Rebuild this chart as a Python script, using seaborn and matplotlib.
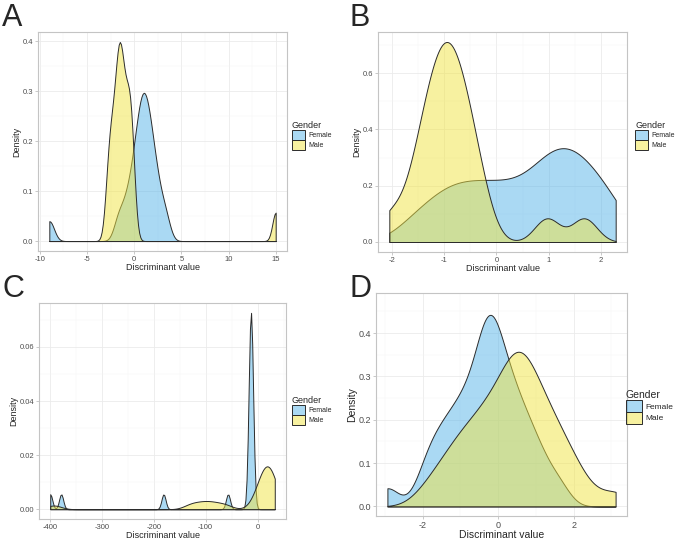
import pandas as pd
import seaborn as sns
import matplotlib.pyplot as plt
from matplotlib.patches import Patch
from matplotlib.colors import to_rgba
from matplotlib.ticker import MultipleLocator, AutoMinorLocator, FormatStrFormatter

# discriminant values per individual, one list per panel and gender
a_female = [-9.0, -1.7, -1.0, -0.5, -0.15, 0.12, 0.34, 0.53, 0.69, 0.84,
            0.99, 1.14, 1.29, 1.45, 1.63, 1.84, 2.05, 2.35, 2.74, 3.36]
a_male = [-2.85, -2.65, -2.45, -2.25, -2.05, -1.9, -1.75, -1.65, -1.55, -1.45,
          -1.35, -1.2, -1.05, -0.9, -0.7, -0.55, -0.42, -0.28, -0.12, 15.0]

b_female = [-1.6, -1.2, -0.95, -0.75, -0.5, -0.3, -0.05, 0.15, 0.4, 0.65,
            0.85, 1.0, 1.12, 1.25, 1.38, 1.52, 1.68, 1.82, 2.05, 2.28]
b_male = [-2.05, -1.66, -1.48, -1.39, -1.29, -1.21, -1.14, -1.08, -1.01,
          -0.95, -0.89, -0.82, -0.76, -0.69, -0.61, -0.51, -0.42, -0.24,
          0.97, 1.68]

c_female = [-399, -378, -181, -57, -15.5, -15, -14.5, -14, -13.5, -13.5,
            -13, -13, -12.5, -12, -12, -11.5, -11, -10.5]
c_male = [-392, -130, -112, -97, -82, -62, -5, 2, 6, 9, 12, 14, 16, 18, 20,
          22, 24, 27, 30, 32, 33]

d_female = [-2.93, -1.99, -1.78, -1.60, -1.44, -1.29, -1.16, -1.03, -0.91,
            -0.80, -0.69, -0.59, -0.49, -0.41, -0.32, -0.28, -0.24, -0.20,
            -0.16, -0.08, 0.00, 0.09, 0.17, 0.26, 0.36, 0.46, 0.58, 0.71, 0.86,
            1.02, 1.24, 1.62]
d_male = [-1.87, -1.48, -1.25, -1.06, -0.89, -0.73, -0.58, -0.44, -0.31,
          -0.19, -0.07, 0.04, 0.15, 0.26, 0.35, 0.45, 0.50, 0.55, 0.60, 0.65,
          0.75, 0.85, 0.95, 1.06, 1.17, 1.29, 1.42, 1.57, 1.73, 1.94, 2.22, 3.11]

genders = ["Female", "Male"]
colors = {"Female": "#56B4E9", "Male": "#F0E442"}

sns.set_theme(style="white")
plt.rcParams["font.family"] = ["Liberation Sans", "DejaVu Sans"]
plt.rcParams["axes.unicode_minus"] = False

W, H = 675, 540
fig = plt.figure(figsize=(W / 100, H / 100), dpi=100)


def fig_box(left, top, right, bottom):
    return [left / W, 1 - bottom / H, (right - left) / W, (bottom - top) / H]


def density_panel(ax, female, male, bws, xstep, ystep, yfmt, legend_at,
                  small=True, top_pad=0.05):
    df = pd.DataFrame({
        "value": female + male,
        "Gender": ["Female"] * len(female) + ["Male"] * len(male),
    })
    lo, hi = df["value"].min(), df["value"].max()
    for gender, h in zip(genders, bws):
        vals = df.loc[df["Gender"] == gender, "value"]
        sns.kdeplot(x=vals, ax=ax, bw_method=h / vals.std(), cut=1000,
                    clip=(lo, hi), fill=True, color=colors[gender], alpha=0.5,
                    edgecolor="#2b2b2b", linewidth=0.7)

    # ggplot-like 5% expansion on both axes
    ax.use_sticky_edges = False
    ax.margins(x=0.05, y=0.05)
    ax.autoscale_view()
    y0, y1 = ax.get_ylim()
    ymax = (y1 - y0) / 1.1
    ax.set_ylim(-0.05 * ymax, ymax * (1 + top_pad))

    tick_fs, lab_fs, leg_fs = (5.5, 6.5, 5.0) if small else (6.5, 7.5, 6.0)
    ax.xaxis.set_major_locator(MultipleLocator(xstep))
    ax.yaxis.set_major_locator(MultipleLocator(ystep))
    ax.xaxis.set_minor_locator(AutoMinorLocator(2))
    ax.yaxis.set_minor_locator(AutoMinorLocator(2))
    ax.yaxis.set_major_formatter(FormatStrFormatter(yfmt))
    ax.grid(which="major", color="#ebebeb", lw=0.6)
    ax.grid(which="minor", color="#f5f5f5", lw=0.35)
    ax.set_axisbelow(True)
    ax.tick_params(which="major", bottom=True, left=True, length=2.2,
                   width=0.5, color="#b3b3b3", labelsize=tick_fs,
                   labelcolor="#4d4d4d", pad=1.2)
    ax.tick_params(which="minor", length=0)
    for sp in ax.spines.values():
        sp.set_color("#c4c4c4")
        sp.set_linewidth(0.8)
    ax.set_xlabel("Discriminant value", fontsize=lab_fs, labelpad=0)
    ax.set_ylabel("Density", fontsize=lab_fs, labelpad=1)

    handles = [Patch(facecolor=to_rgba(colors[g], 0.5), edgecolor="#2b2b2b",
                     linewidth=0.7, label=g) for g in genders]
    ax.legend(handles=handles, title="Gender", loc="upper left",
              bbox_to_anchor=(legend_at[0] / W, 1 - legend_at[1] / H),
              bbox_transform=fig.transFigure, frameon=False, borderpad=0,
              borderaxespad=0, handletextpad=0.4, labelspacing=0,
              alignment="left", fontsize=leg_fs, title_fontsize=lab_fs,
              handlelength=1.9, handleheight=1.8)


ax_a = fig.add_axes(fig_box(38, 32, 287, 251))
density_panel(ax_a, a_female, a_male, (0.5, 0.35), 5, 0.1, "%.1f", (292, 121))

ax_b = fig.add_axes(fig_box(378, 32, 627, 252))
density_panel(ax_b, b_female, b_male, (0.4, 0.24), 1, 0.2, "%.1f", (635, 121))

ax_c = fig.add_axes(fig_box(39, 303, 286, 519))
density_panel(ax_c, c_female, c_male, (4, 14), 100, 0.02, "%.2f", (292, 396))

ax_d = fig.add_axes(fig_box(376, 293, 627, 516))
density_panel(ax_d, d_female, d_male, (0.3, 0.42), 2, 0.1, "%.1f", (626, 390),
              small=False, top_pad=0.114)

for label, (x, y) in zip("ABCD", [(2, 3), (349, 3), (2, 274), (349, 274)]):
    fig.text(x / W, 1 - y / H, label, fontsize=22, ha="left", va="top")

fig.savefig("out.png", dpi=100)
